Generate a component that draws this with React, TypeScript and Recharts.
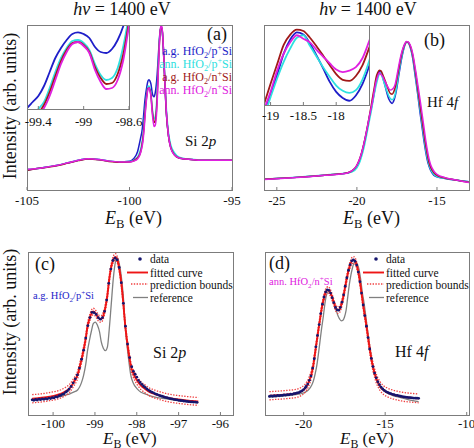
import React from 'react';
import { ComposedChart, Line, Scatter, XAxis, YAxis } from 'recharts';

const SERIF = '"Liberation Serif", "Times New Roman", serif';
const AXIS_GRAY = '#7c7c7c';
const TXT = '#111111';

const C_AGP = '#1e1ec8';
const C_ANNP = '#2ee0e0';
const C_AGN = '#a01818';
const C_ANNN = '#e020e0';
const C_FIT = '#ee1515';
const C_BND = '#f04040';
const C_REF = '#808080';
const C_DAT = '#16166e';

// ---------- Panel (a): Si 2p, four samples ----------
const aX = [-105, -104.5, -104, -103.5, -103, -102.5, -102, -101.5, -101, -100.5, -100, -99.8, -99.6, -99.5, -99.45, -99.4, -99.35, -99.3, -99.25, -99.2, -99.15, -99.1, -99.05, -99.0, -98.95, -98.9, -98.85, -98.8, -98.75, -98.7, -98.65, -98.6, -98.55, -98.5, -98.45, -98.4, -98.35, -98.3, -98.2, -98.1, -98.0, -97.8, -97.6, -97.4, -97.0, -96.5, -96, -95.5, -95];
const aAgP = [0.12, 0.13, 0.14, 0.15, 0.165, 0.18, 0.19, 0.185, 0.175, 0.17, 0.175, 0.19, 0.235, 0.29, 0.32, 0.35, 0.40, 0.47, 0.54, 0.59, 0.63, 0.66, 0.668, 0.66, 0.64, 0.595, 0.57, 0.565, 0.585, 0.63, 0.70, 0.80, 0.90, 0.97, 0.985, 0.96, 0.86, 0.72, 0.46, 0.33, 0.265, 0.215, 0.195, 0.19, 0.185, 0.18, 0.18, 0.18, 0.18];
const aAnnP = [0.125, 0.13, 0.14, 0.15, 0.165, 0.18, 0.19, 0.185, 0.175, 0.17, 0.172, 0.18, 0.2, 0.23, 0.25, 0.285, 0.32, 0.39, 0.47, 0.54, 0.59, 0.625, 0.63, 0.615, 0.58, 0.51, 0.455, 0.43, 0.44, 0.49, 0.60, 0.75, 0.89, 0.965, 0.985, 0.96, 0.87, 0.74, 0.49, 0.35, 0.28, 0.225, 0.2, 0.192, 0.186, 0.182, 0.182, 0.181, 0.181];
const aAgN = [0.12, 0.13, 0.138, 0.148, 0.163, 0.178, 0.188, 0.183, 0.173, 0.168, 0.17, 0.177, 0.195, 0.215, 0.235, 0.265, 0.305, 0.37, 0.45, 0.525, 0.58, 0.615, 0.62, 0.605, 0.57, 0.495, 0.44, 0.41, 0.415, 0.46, 0.56, 0.72, 0.87, 0.965, 0.99, 0.965, 0.865, 0.725, 0.465, 0.33, 0.262, 0.212, 0.195, 0.19, 0.185, 0.18, 0.18, 0.18, 0.18];
const aAnnN = [0.125, 0.13, 0.14, 0.15, 0.165, 0.18, 0.19, 0.185, 0.175, 0.17, 0.17, 0.175, 0.19, 0.21, 0.23, 0.255, 0.29, 0.35, 0.43, 0.51, 0.57, 0.61, 0.62, 0.60, 0.565, 0.48, 0.42, 0.385, 0.39, 0.43, 0.53, 0.70, 0.86, 0.97, 1.0, 0.97, 0.87, 0.73, 0.47, 0.33, 0.26, 0.21, 0.195, 0.19, 0.185, 0.18, 0.18, 0.18, 0.18];
const aTicksX = [-105, -100, -95];
const aTicksY = [0.06, 0.23, 0.4, 0.57, 0.74, 0.91];
const aInsetTicksX = [-99.4, -99, -98.6];
const aInsetTicksY = [0.33, 0.47, 0.61];

// ---------- Panel (b): Hf 4f, four samples ----------
const bX = [-25.8, -25, -24, -23, -22, -21, -20.6, -20.3, -20.0, -19.8, -19.6, -19.4, -19.3, -19.2, -19.1, -19.0, -18.9, -18.8, -18.7, -18.6, -18.5, -18.4, -18.3, -18.2, -18.1, -18.0, -17.9, -17.8, -17.7, -17.6, -17.5, -17.4, -17.3, -17.2, -17.1, -17.0, -16.9, -16.8, -16.7, -16.6, -16.5, -16.4, -16.3, -16.2, -16.1, -16.0, -15.9, -15.8, -15.7, -15.6, -15.5, -15.4, -15.2, -15.0, -14.5, -14, -13.5, -13];
const bAgP = [0.065, 0.069, 0.075, 0.082, 0.09, 0.098, 0.103, 0.115, 0.145, 0.19, 0.26, 0.35, 0.4, 0.45, 0.495, 0.545, 0.598, 0.658, 0.698, 0.718, 0.712, 0.687, 0.653, 0.617, 0.579, 0.55, 0.533, 0.525, 0.54, 0.572, 0.622, 0.685, 0.745, 0.8, 0.845, 0.88, 0.895, 0.893, 0.875, 0.84, 0.79, 0.72, 0.65, 0.58, 0.5, 0.43, 0.36, 0.29, 0.23, 0.18, 0.145, 0.12, 0.09, 0.08, 0.07, 0.062, 0.056, 0.05];
const bAnnP = [0.066, 0.07, 0.076, 0.083, 0.091, 0.099, 0.103, 0.11, 0.135, 0.175, 0.24, 0.33, 0.38, 0.43, 0.48, 0.535, 0.588, 0.635, 0.673, 0.703, 0.71, 0.68, 0.65, 0.62, 0.593, 0.568, 0.553, 0.547, 0.555, 0.585, 0.636, 0.7, 0.76, 0.81, 0.85, 0.882, 0.896, 0.894, 0.877, 0.845, 0.8, 0.735, 0.665, 0.595, 0.52, 0.45, 0.38, 0.31, 0.245, 0.195, 0.155, 0.128, 0.095, 0.082, 0.071, 0.063, 0.056, 0.05];
const bAgN = [0.065, 0.069, 0.075, 0.082, 0.09, 0.098, 0.104, 0.117, 0.15, 0.195, 0.265, 0.355, 0.405, 0.46, 0.515, 0.573, 0.628, 0.683, 0.712, 0.726, 0.722, 0.703, 0.679, 0.653, 0.626, 0.6, 0.584, 0.581, 0.595, 0.625, 0.673, 0.725, 0.78, 0.825, 0.86, 0.885, 0.898, 0.896, 0.88, 0.852, 0.81, 0.75, 0.685, 0.615, 0.545, 0.475, 0.405, 0.335, 0.27, 0.215, 0.17, 0.14, 0.105, 0.088, 0.073, 0.064, 0.055, 0.047];
const bAnnN = [0.064, 0.068, 0.074, 0.081, 0.089, 0.097, 0.103, 0.117, 0.15, 0.195, 0.265, 0.355, 0.405, 0.455, 0.5, 0.55, 0.61, 0.658, 0.69, 0.71, 0.7, 0.69, 0.669, 0.65, 0.631, 0.613, 0.606, 0.61, 0.62, 0.645, 0.692, 0.745, 0.795, 0.835, 0.865, 0.888, 0.9, 0.898, 0.885, 0.86, 0.82, 0.765, 0.705, 0.64, 0.575, 0.51, 0.44, 0.37, 0.3, 0.24, 0.19, 0.155, 0.115, 0.095, 0.075, 0.064, 0.055, 0.045];
const bTicksX = [-25, -20, -15];
const bTicksY = [0.04, 0.21, 0.38, 0.555, 0.725, 0.895];
const bInsetTicksX = [-19, -18.5, -18];
const bInsetTicksY = [0.561, 0.603, 0.645, 0.688, 0.73];

// ---------- Panel (c): Si 2p fit, a.g. HfO2/p+Si ----------
const cX = [-100.5, -100.36, -100.22, -100.08, -99.94, -99.79, -99.7, -99.6, -99.51, -99.41, -99.37, -99.32, -99.27, -99.22, -99.18, -99.13, -99.08, -99.04, -98.99, -98.94, -98.89, -98.85, -98.8, -98.75, -98.7, -98.66, -98.61, -98.56, -98.51, -98.47, -98.42, -98.37, -98.32, -98.28, -98.23, -98.18, -98.14, -98.09, -97.99, -97.9, -97.8, -97.71, -97.61, -97.47, -97.33, -97.19, -97.05, -96.9, -96.76, -96.62, -96.53];
const cFit = [0.10, 0.103, 0.107, 0.113, 0.12, 0.132, 0.145, 0.165, 0.2, 0.25, 0.29, 0.34, 0.40, 0.47, 0.54, 0.59, 0.625, 0.635, 0.625, 0.605, 0.59, 0.59, 0.61, 0.66, 0.74, 0.83, 0.91, 0.955, 0.97, 0.955, 0.9, 0.81, 0.68, 0.56, 0.45, 0.36, 0.3, 0.26, 0.21, 0.18, 0.16, 0.143, 0.132, 0.12, 0.11, 0.102, 0.097, 0.092, 0.088, 0.085, 0.083];
const cUp = [0.125, 0.128, 0.132, 0.138, 0.145, 0.157, 0.17, 0.19, 0.224, 0.273, 0.312, 0.362, 0.421, 0.491, 0.561, 0.611, 0.645, 0.655, 0.645, 0.625, 0.61, 0.61, 0.63, 0.68, 0.761, 0.851, 0.93, 0.975, 0.99, 0.975, 0.921, 0.831, 0.702, 0.582, 0.472, 0.383, 0.323, 0.284, 0.234, 0.204, 0.184, 0.167, 0.156, 0.144, 0.134, 0.126, 0.121, 0.116, 0.112, 0.109, 0.107];
const cLo = [0.075, 0.078, 0.082, 0.088, 0.095, 0.107, 0.12, 0.14, 0.176, 0.227, 0.268, 0.318, 0.379, 0.449, 0.519, 0.569, 0.605, 0.615, 0.605, 0.585, 0.57, 0.57, 0.59, 0.64, 0.719, 0.809, 0.89, 0.935, 0.95, 0.935, 0.879, 0.789, 0.658, 0.538, 0.428, 0.337, 0.277, 0.236, 0.186, 0.156, 0.136, 0.119, 0.108, 0.096, 0.086, 0.078, 0.073, 0.068, 0.064, 0.061, 0.059];
const cRef = [0.098, 0.1, 0.102, 0.105, 0.11, 0.115, 0.122, 0.13, 0.14, 0.155, 0.17, 0.2, 0.245, 0.31, 0.39, 0.46, 0.52, 0.56, 0.57, 0.55, 0.51, 0.45, 0.41, 0.395, 0.42, 0.52, 0.68, 0.84, 0.94, 0.965, 0.93, 0.85, 0.72, 0.56, 0.42, 0.31, 0.24, 0.2, 0.16, 0.14, 0.13, 0.12, 0.113, 0.105, 0.1, 0.095, 0.09, 0.085, 0.08, 0.077, 0.075];
const cDotX = [
  -100.5, -100.46, -100.42, -100.38, -100.34, -100.3, -100.26, -100.22, -100.18, -100.14, -100.1, -100.06, -100.02, -99.98, -99.94, -99.9, -99.86, -99.82, -99.78, -99.74, -99.7, -99.66, -99.62,
  -99.57, -99.52, -99.47, -99.42, -99.37, -99.32, -99.27, -99.22, -99.17, -99.12, -99.07, -99.02, -98.97, -98.92, -98.87, -98.82, -98.77, -98.72, -98.67, -98.62, -98.57, -98.52, -98.47, -98.42, -98.37, -98.32, -98.27, -98.22, -98.17, -98.12,
  -98.08, -98.04, -98.0, -97.96, -97.92, -97.88, -97.84, -97.8, -97.76, -97.72, -97.68, -97.64, -97.6, -97.56, -97.52, -97.48, -97.44, -97.4, -97.36, -97.32, -97.28, -97.24, -97.2, -97.16, -97.12, -97.08, -97.04, -97.0, -96.96, -96.92, -96.88, -96.84, -96.8, -96.76, -96.72, -96.68, -96.64, -96.6, -96.56,
];
const cDotY = [
  0.093, 0.09, 0.095, 0.092, 0.097, 0.094, 0.099, 0.096, 0.101, 0.098, 0.104, 0.101, 0.107, 0.105, 0.112, 0.11, 0.118, 0.12, 0.127, 0.13, 0.14, 0.147, 0.158,
  0.175, 0.197, 0.222, 0.246, 0.288, 0.342, 0.398, 0.472, 0.548, 0.598, 0.63, 0.628, 0.617, 0.597, 0.588, 0.598, 0.636, 0.705, 0.808, 0.895, 0.948, 0.962, 0.952, 0.905, 0.812, 0.685, 0.545, 0.435, 0.352, 0.296,
  0.268, 0.25, 0.232, 0.213, 0.2, 0.188, 0.178, 0.17, 0.16, 0.153, 0.146, 0.14, 0.136, 0.13, 0.126, 0.122, 0.118, 0.115, 0.112, 0.108, 0.106, 0.103, 0.1, 0.099, 0.096, 0.094, 0.093, 0.09, 0.089, 0.088, 0.086, 0.085, 0.083, 0.082, 0.081, 0.08, 0.079, 0.079, 0.078,
];
const cTicksX = [-100, -99, -98, -97, -96];
const cTicksY = [0.07, 0.245, 0.42, 0.595, 0.77, 0.945];

// ---------- Panel (d): Hf 4f fit, ann. HfO2/n+Si ----------
const dX = [-22.1, -21.8, -21.5, -21.2, -20.9, -20.6, -20.3, -20.1, -19.9, -19.7, -19.5, -19.4, -19.3, -19.2, -19.1, -19.0, -18.9, -18.8, -18.7, -18.6, -18.5, -18.4, -18.3, -18.2, -18.1, -18.0, -17.9, -17.8, -17.7, -17.6, -17.5, -17.4, -17.3, -17.2, -17.1, -17.0, -16.9, -16.8, -16.7, -16.6, -16.5, -16.4, -16.3, -16.2, -16.1, -16.0, -15.9, -15.8, -15.7, -15.6, -15.5, -15.4, -15.3, -15.1, -14.9, -14.6, -14.3, -14.0, -13.6, -13.3, -12.95];
const dFit = [0.118, 0.12, 0.122, 0.124, 0.127, 0.13, 0.137, 0.147, 0.165, 0.2, 0.26, 0.31, 0.38, 0.45, 0.52, 0.585, 0.65, 0.7, 0.74, 0.762, 0.767, 0.758, 0.735, 0.705, 0.675, 0.652, 0.643, 0.648, 0.672, 0.71, 0.76, 0.815, 0.865, 0.905, 0.935, 0.95, 0.95, 0.935, 0.9, 0.85, 0.785, 0.71, 0.64, 0.58, 0.51, 0.44, 0.375, 0.32, 0.275, 0.24, 0.212, 0.192, 0.175, 0.153, 0.14, 0.128, 0.12, 0.113, 0.108, 0.105, 0.102];
const dUp = [0.143, 0.145, 0.147, 0.149, 0.152, 0.155, 0.162, 0.172, 0.19, 0.224, 0.284, 0.333, 0.402, 0.471, 0.54, 0.605, 0.67, 0.72, 0.76, 0.782, 0.787, 0.778, 0.755, 0.725, 0.695, 0.672, 0.663, 0.668, 0.692, 0.73, 0.78, 0.835, 0.885, 0.925, 0.955, 0.97, 0.97, 0.955, 0.92, 0.87, 0.806, 0.731, 0.662, 0.602, 0.533, 0.464, 0.4, 0.346, 0.301, 0.267, 0.239, 0.219, 0.202, 0.18, 0.167, 0.155, 0.147, 0.14, 0.135, 0.132, 0.129];
const dLo = [0.093, 0.095, 0.097, 0.099, 0.102, 0.105, 0.112, 0.122, 0.14, 0.176, 0.236, 0.287, 0.358, 0.429, 0.5, 0.565, 0.63, 0.68, 0.72, 0.742, 0.747, 0.738, 0.715, 0.685, 0.655, 0.632, 0.623, 0.628, 0.652, 0.69, 0.74, 0.795, 0.845, 0.885, 0.915, 0.93, 0.93, 0.915, 0.88, 0.83, 0.764, 0.689, 0.618, 0.558, 0.487, 0.416, 0.35, 0.294, 0.249, 0.213, 0.185, 0.165, 0.148, 0.126, 0.113, 0.101, 0.093, 0.086, 0.081, 0.078, 0.075];
const dRef = [0.11, 0.112, 0.114, 0.117, 0.12, 0.124, 0.128, 0.132, 0.14, 0.155, 0.184, 0.21, 0.25, 0.3, 0.37, 0.45, 0.53, 0.6, 0.68, 0.735, 0.755, 0.757, 0.74, 0.71, 0.675, 0.64, 0.61, 0.59, 0.578, 0.58, 0.6, 0.64, 0.72, 0.8, 0.86, 0.905, 0.935, 0.94, 0.925, 0.89, 0.83, 0.75, 0.69, 0.615, 0.535, 0.46, 0.39, 0.33, 0.28, 0.24, 0.21, 0.185, 0.17, 0.15, 0.135, 0.122, 0.112, 0.105, 0.095, 0.088, 0.082];
const dDotX = [
  -22.1, -22.0, -21.9, -21.8, -21.7, -21.6, -21.5, -21.4, -21.3, -21.2, -21.1, -21.0, -20.9, -20.8, -20.7, -20.6, -20.5, -20.4, -20.3, -20.2, -20.1, -20.0, -19.9,
  -19.85, -19.75, -19.65, -19.55, -19.45, -19.35, -19.25, -19.15, -19.05, -18.95, -18.85, -18.75, -18.65, -18.55, -18.45, -18.35, -18.25, -18.15, -18.05, -17.95, -17.85, -17.75, -17.65, -17.55, -17.45, -17.35, -17.25, -17.15, -17.05, -16.95, -16.85, -16.75, -16.65, -16.55, -16.45, -16.35, -16.25, -16.15, -16.05, -15.95, -15.85, -15.75, -15.65,
  -15.55, -15.45, -15.35, -15.25, -15.15, -15.05, -14.95, -14.85, -14.75, -14.65, -14.55, -14.45, -14.35, -14.25, -14.15, -14.05, -13.95, -13.85, -13.75, -13.65, -13.55, -13.45, -13.35, -13.25, -13.15, -13.05, -12.95,
];
const dDotY = [
  0.114, 0.117, 0.115, 0.118, 0.116, 0.12, 0.118, 0.121, 0.12, 0.123, 0.122, 0.125, 0.124, 0.128, 0.127, 0.131, 0.132, 0.136, 0.137, 0.143, 0.148, 0.156, 0.167,
  0.175, 0.19, 0.213, 0.24, 0.288, 0.345, 0.418, 0.488, 0.555, 0.622, 0.68, 0.724, 0.755, 0.768, 0.765, 0.748, 0.72, 0.69, 0.66, 0.645, 0.643, 0.66, 0.692, 0.737, 0.79, 0.842, 0.888, 0.922, 0.946, 0.952, 0.944, 0.92, 0.877, 0.818, 0.748, 0.675, 0.61, 0.545, 0.475, 0.405, 0.347, 0.297, 0.257,
  0.228, 0.204, 0.186, 0.171, 0.16, 0.151, 0.144, 0.139, 0.134, 0.131, 0.127, 0.125, 0.121, 0.12, 0.117, 0.115, 0.113, 0.111, 0.11, 0.108, 0.107, 0.106, 0.105, 0.104, 0.103, 0.103, 0.102,
];
const dTicksX = [-20, -15, -10];
const dTicksY = [0.07, 0.245, 0.42, 0.595, 0.77, 0.945];

// ---------- tables ----------
const aRows = aX.map((x, i) => ({ x, agP: aAgP[i], annP: aAnnP[i], agN: aAgN[i], annN: aAnnN[i] }));
const bRows = bX.map((x, i) => ({ x, agP: bAgP[i], annP: bAnnP[i], agN: bAgN[i], annN: bAnnN[i] }));
const cRows = cX.map((x, i) => ({ x, fit: cFit[i], up: cUp[i], lo: cLo[i], ref: cRef[i] }));
const dRows = dX.map((x, i) => ({ x, fit: dFit[i], up: dUp[i], lo: dLo[i], ref: dRef[i] }));
const cDots = cDotX.map((x, i) => ({ x, y: cDotY[i] }));
const dDots = dDotX.map((x, i) => ({ x, y: dDotY[i] }));

type Rect = { l: number; t: number; w: number; h: number };
const RA: Rect = { l: 27, t: 25, w: 205, h: 165 };
const RAI: Rect = { l: 27, t: 25, w: 102, h: 84 };
const RB: Rect = { l: 264, t: 25, w: 205, h: 165 };
const RBI: Rect = { l: 264, t: 25, w: 105, h: 80 };
const RC: Rect = { l: 28, t: 252, w: 205, h: 163 };
const RD: Rect = { l: 265, t: 252, w: 204, h: 163 };

const PAD_L = 30;
const PAD_R = 26;
const PAD_T = 6;
const AX_H = 28;

function Plot(props: any) {
  const { rect, data, xDomain, yDomain, xTicks, yTicks, fontSize, tickMargin, children } = props;
  return (
    <div style={{ position: 'absolute', left: rect.l - PAD_L, top: rect.t - PAD_T }}>
      <ComposedChart
        width={rect.w + PAD_L + PAD_R}
        height={rect.h + PAD_T + AX_H}
        data={data}
        margin={{ top: PAD_T, right: PAD_R, bottom: 0, left: 0 }}
      >
        <XAxis
          dataKey="x"
          type="number"
          domain={xDomain}
          ticks={xTicks}
          interval={0}
          allowDataOverflow
          height={AX_H}
          axisLine={false}
          tickLine={{ stroke: AXIS_GRAY }}
          tickSize={-3}
          tickMargin={tickMargin}
          tick={{ fontSize, fill: TXT, fontFamily: SERIF }}
        />
        <YAxis
          type="number"
          domain={yDomain}
          ticks={yTicks}
          interval={0}
          allowDataOverflow
          width={PAD_L}
          axisLine={false}
          tickLine={{ stroke: AXIS_GRAY }}
          tickSize={-3}
          tick={false}
        />
        {children}
      </ComposedChart>
    </div>
  );
}

function Frame({ rect, bg }: { rect: Rect; bg?: boolean }) {
  return (
    <div
      style={{
        position: 'absolute',
        left: rect.l,
        top: rect.t,
        width: rect.w + 1,
        height: rect.h + 1,
        boxSizing: 'border-box',
        border: `1px solid ${AXIS_GRAY}`,
        background: bg ? '#ffffff' : 'transparent',
        pointerEvents: 'none',
      }}
    />
  );
}

const sampleLines = (w: number) => [
  <Line key="agP" dataKey="agP" type="monotone" stroke={C_AGP} strokeWidth={w} dot={false} isAnimationActive={false} />,
  <Line key="annP" dataKey="annP" type="monotone" stroke={C_ANNP} strokeWidth={w} dot={false} isAnimationActive={false} />,
  <Line key="agN" dataKey="agN" type="monotone" stroke={C_AGN} strokeWidth={w} dot={false} isAnimationActive={false} />,
  <Line key="annN" dataKey="annN" type="monotone" stroke={C_ANNN} strokeWidth={w} dot={false} isAnimationActive={false} />,
];

const dotShape = (p: any) => <circle cx={p.cx} cy={p.cy} r={1.4} fill={C_DAT} />;

const fitLines = (dots: any[]) => [
  <Line key="ref" dataKey="ref" type="monotone" stroke={C_REF} strokeWidth={1.3} dot={false} isAnimationActive={false} />,
  <Scatter key="data" data={dots} dataKey="y" shape={dotShape} isAnimationActive={false} />,
  <Line key="up" dataKey="up" type="monotone" stroke={C_BND} strokeWidth={1.3} strokeDasharray="1.4 1.4" dot={false} isAnimationActive={false} />,
  <Line key="lo" dataKey="lo" type="monotone" stroke={C_BND} strokeWidth={1.3} strokeDasharray="1.4 1.4" dot={false} isAnimationActive={false} />,
  <Line key="fit" dataKey="fit" type="monotone" stroke={C_FIT} strokeWidth={1.9} dot={false} isAnimationActive={false} />,
];

function Sample({ x, y, pre, dop, color, size, anchor }: any) {
  return (
    <text x={x} y={y} fill={color} fontSize={size} fontFamily={SERIF} textAnchor={anchor || 'start'}>
      {pre} HfO
      <tspan dy={size * 0.28} fontSize={size * 0.68}>2</tspan>
      <tspan dy={-size * 0.28}>/{dop}</tspan>
      <tspan dy={-size * 0.38} fontSize={size * 0.68}>+</tspan>
      <tspan dy={size * 0.38}>Si</tspan>
    </text>
  );
}

function EB({ x, y, size }: { x: number; y: number; size: number }) {
  return (
    <text x={x} y={y} fontSize={size} fontFamily={SERIF} fill={TXT}>
      <tspan fontStyle="italic">E</tspan>
      <tspan dy={size * 0.22} fontSize={size * 0.7}>B</tspan>
      <tspan dy={-size * 0.22}> (eV)</tspan>
    </text>
  );
}

function FitLegend({ dx }: { dx: number }) {
  const t = { fontSize: 11.5, fontFamily: SERIF, fill: TXT };
  return (
    <g transform={`translate(${dx},0)`}>
      <circle cx={140} cy={259} r={1.8} fill={C_DAT} />
      <text x={150} y={263} {...t}>data</text>
      <line x1={127} x2={148} y1={272.5} y2={272.5} stroke={C_FIT} strokeWidth={1.9} />
      <text x={150} y={277} {...t}>fitted curve</text>
      <line x1={131} x2={148} y1={284} y2={284} stroke={C_BND} strokeWidth={1.3} strokeDasharray="1.4 1.4" />
      <text x={150} y={289} {...t}>prediction bounds</text>
      <line x1={133} x2={148} y1={297.5} y2={297.5} stroke={C_REF} strokeWidth={1.3} />
      <text x={150} y={302} {...t}>reference</text>
    </g>
  );
}

function Overlay() {
  const big = { fontFamily: SERIF, fill: TXT };
  return (
    <svg width={474} height={448} style={{ position: 'absolute', left: 0, top: 0, pointerEvents: 'none' }}>
      <text x={122} y={15} fontSize={18} textAnchor="middle" {...big}>
        <tspan fontStyle="italic">hν</tspan> = 1400 eV
      </text>
      <text x={368} y={15} fontSize={18} textAnchor="middle" {...big}>
        <tspan fontStyle="italic">hν</tspan> = 1400 eV
      </text>
      <text transform="rotate(-90)" x={-106} y={16} fontSize={18} textAnchor="middle" {...big}>Intensity (arb. units)</text>
      <text transform="rotate(-90)" x={-322} y={16} fontSize={18} textAnchor="middle" {...big}>Intensity (arb. units)</text>
      <EB x={105} y={224} size={18} />
      <EB x={343} y={224} size={18} />
      <EB x={103} y={444} size={17} />
      <EB x={340} y={444} size={17} />
      <text x={207} y={40} fontSize={18} {...big}>(a)</text>
      <Sample x={232} y={55} pre="a.g." dop="p" color={C_AGP} size={12} anchor="end" />
      <Sample x={232} y={68} pre="ann." dop="p" color={C_ANNP} size={12} anchor="end" />
      <Sample x={232} y={81} pre="a.g." dop="n" color={C_AGN} size={12} anchor="end" />
      <Sample x={232} y={94} pre="ann." dop="n" color={C_ANNN} size={12} anchor="end" />
      <text x={185} y={146} fontSize={15} {...big}>Si 2<tspan fontStyle="italic">p</tspan></text>
      <text x={424} y={46} fontSize={18} {...big}>(b)</text>
      <text x={427} y={107} fontSize={15} {...big}>Hf 4<tspan fontStyle="italic">f</tspan></text>
      <text x={35} y={270} fontSize={18} {...big}>(c)</text>
      <Sample x={33} y={299} pre="a.g." dop="p" color={C_AGP} size={10.5} />
      <text x={153} y={358} fontSize={16} {...big}>Si 2<tspan fontStyle="italic">p</tspan></text>
      <FitLegend dx={0} />
      <text x={269} y={269} fontSize={18} {...big}>(d)</text>
      <Sample x={269} y={285} pre="ann." dop="n" color={C_ANNN} size={10.5} />
      <text x={395} y={357} fontSize={16} {...big}>Hf 4<tspan fontStyle="italic">f</tspan></text>
      <FitLegend dx={236} />
    </svg>
  );
}

export default function App() {
  return (
    <div style={{ position: 'absolute', left: 0, top: 0, width: 474, height: 448, overflow: 'hidden', background: '#fff' }}>
      <Plot rect={RA} data={aRows} xDomain={[-105, -95]} yDomain={[0, 1]} xTicks={aTicksX} yTicks={aTicksY} fontSize={13} tickMargin={9}>
        {sampleLines(1.5)}
      </Plot>
      <Frame rect={RA} />
      <Frame rect={RAI} bg />
      <Plot rect={RAI} data={aRows} xDomain={[-99.5, -98.6]} yDomain={[0.285, 0.705]} xTicks={aInsetTicksX} yTicks={aInsetTicksY} fontSize={13} tickMargin={11}>
        {sampleLines(1.8)}
      </Plot>
      <Frame rect={RAI} />

      <Plot rect={RB} data={bRows} xDomain={[-25.8, -13]} yDomain={[0, 1]} xTicks={bTicksX} yTicks={bTicksY} fontSize={13} tickMargin={9}>
        {sampleLines(1.5)}
      </Plot>
      <Frame rect={RB} />
      <Frame rect={RBI} bg />
      <Plot rect={RBI} data={bRows} xDomain={[-19.1, -17.5]} yDomain={[0.513, 0.739]} xTicks={bInsetTicksX} yTicks={bInsetTicksY} fontSize={13} tickMargin={9}>
        {sampleLines(1.8)}
      </Plot>
      <Frame rect={RBI} />

      <Plot rect={RC} data={cRows} xDomain={[-100.6, -95.7]} yDomain={[0, 1]} xTicks={cTicksX} yTicks={cTicksY} fontSize={13} tickMargin={7}>
        {fitLines(cDots)}
      </Plot>
      <Frame rect={RC} />

      <Plot rect={RD} data={dRows} xDomain={[-22.37, -9.86]} yDomain={[0, 1]} xTicks={dTicksX} yTicks={dTicksY} fontSize={13} tickMargin={7}>
        {fitLines(dDots)}
      </Plot>
      <Frame rect={RD} />

      <Overlay />
    </div>
  );
}
